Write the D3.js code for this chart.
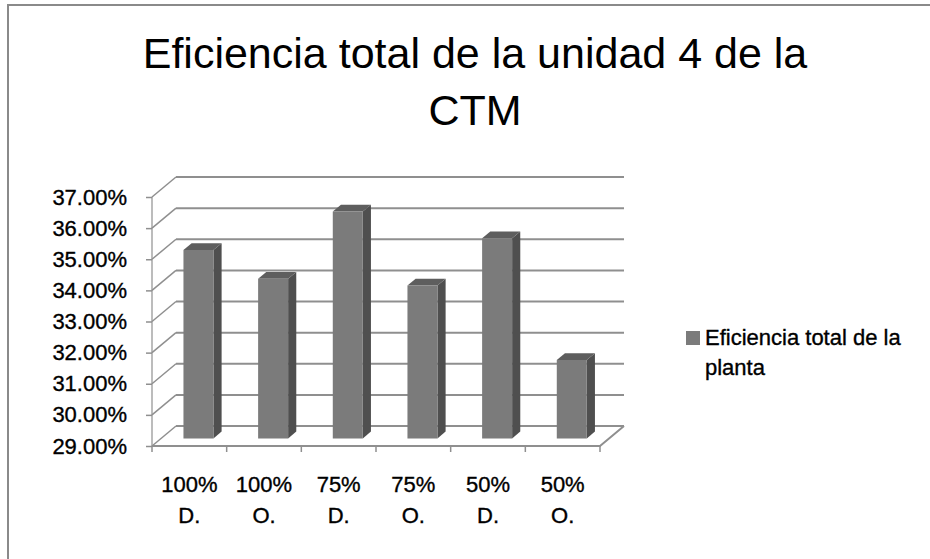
<!DOCTYPE html>
<html>
<head>
<meta charset="utf-8">
<script src="https://cdn.jsdelivr.net/npm/d3@7/dist/d3.min.js"></script>
<style>
  body { margin: 0; background: #fff; }
  text { font-family: "Liberation Sans", Arial, sans-serif; fill: #000; }
  .lab { stroke: #000; stroke-width: 0.35px; }
</style>
</head>
<body>
<div id="chart"></div>
<script>
// data
var categorias = ["100% D.", "100% O.", "75% D.", "75% O.", "50% D.", "50% O."];
var eficiencia = [35.05, 34.13, 36.29, 33.91, 35.43, 31.52];
var ticksY = [29, 30, 31, 32, 33, 34, 35, 36, 37];
var serieNombre = ["Eficiencia total de la", "planta"];
var titulo = ["Eficiencia total de la unidad 4 de la", "CTM"];

const dims = { width: 930, height: 559 };
// 3D offsets of the back wall
const prof = { dx: 24, dy: -20 };
const barra = { ancho: 30, f0: 0.38, f1: 0.72 };

var svg = d3.select("#chart").append("svg")
    .attr("width", dims.width)
    .attr("height", dims.height);

// chart frame
svg.append("rect")
    .attr("x", 8).attr("y", 5)
    .attr("width", dims.width + 10).attr("height", dims.height + 10)
    .attr("fill", "none")
    .attr("stroke", "#8a8a8a")
    .attr("stroke-width", 2);

// title
svg.append("text")
    .attr("x", 475).attr("y", 68)
    .attr("text-anchor", "middle")
    .style("font-size", "43px")
    .text(titulo[0]);
svg.append("text")
    .attr("x", 475).attr("y", 125)
    .attr("text-anchor", "middle")
    .style("font-size", "43px")
    .text(titulo[1]);

var scaleX = d3.scaleBand()
    .domain(categorias)
    .range([152, 600]);

var scaleY = d3.scaleLinear()
    .domain([29, 37])
    .range([446, 197]);

var gridColor = "#8f8f8f";
var g = svg.append("g");

// back wall gridlines + left wall diagonals
ticksY.forEach(function (t) {
    var y = scaleY(t);
    g.append("line")
        .attr("x1", scaleX.range()[0] + prof.dx).attr("y1", y + prof.dy)
        .attr("x2", scaleX.range()[1] + prof.dx).attr("y2", y + prof.dy)
        .attr("stroke", gridColor).attr("stroke-width", 2);
    g.append("line")
        .attr("x1", scaleX.range()[0]).attr("y1", y)
        .attr("x2", scaleX.range()[0] + prof.dx).attr("y2", y + prof.dy)
        .attr("stroke", gridColor).attr("stroke-width", 1.5);
});

// floor
var x0 = scaleX.range()[0], x1 = scaleX.range()[1], yb = scaleY(29);
g.append("path")
    .attr("d", "M" + x0 + "," + yb + "L" + x1 + "," + yb +
        "L" + (x1 + prof.dx) + "," + (yb + prof.dy))
    .attr("fill", "none")
    .attr("stroke", gridColor).attr("stroke-width", 2);

// front vertical axis
g.append("line")
    .attr("x1", x0).attr("y1", scaleY(37))
    .attr("x2", x0).attr("y2", yb)
    .attr("stroke", gridColor).attr("stroke-width", 1.2);

// y axis ticks and labels
var axisY = d3.axisLeft(scaleY)
    .tickValues(ticksY)
    .tickSize(6)
    .tickPadding(19)
    .tickFormat(d => d3.format(".2f")(d) + "%");

svg.append("g")
    .attr("class", "y axis")
    .attr("transform", "translate(" + x0 + ",0)")
    .call(axisY)
    .call(s => s.select(".domain").remove())
    .call(s => s.selectAll("line").attr("stroke", gridColor).attr("stroke-width", 1.5))
    .call(s => s.selectAll("text")
        .attr("class", "lab")
        .style("font-size", "22px")
        .attr("font-family", null)
        .attr("fill", "#000"));

// x axis boundary ticks
var bordes = categorias.map(c => scaleX(c)).concat([x1]);
svg.selectAll(".xtick")
    .data(bordes)
    .enter().append("line")
    .attr("class", "xtick")
    .attr("x1", d => d).attr("x2", d => d)
    .attr("y1", yb).attr("y2", yb + 6)
    .attr("stroke", gridColor).attr("stroke-width", 1.5);

// x labels, two lines each
var etiquetas = svg.selectAll(".xlab")
    .data(categorias)
    .enter().append("text")
    .attr("class", "xlab lab")
    .attr("text-anchor", "middle")
    .style("font-size", "22px");
etiquetas.append("tspan")
    .attr("x", d => scaleX(d) + scaleX.bandwidth() / 2)
    .attr("y", 492)
    .text(d => d.split(" ")[0]);
etiquetas.append("tspan")
    .attr("x", d => scaleX(d) + scaleX.bandwidth() / 2)
    .attr("y", 523)
    .text(d => d.split(" ")[1]);

// 3D bars
var datos = categorias.map((c, i) => ({ cat: c, val: eficiencia[i] }));

var bars = svg.selectAll(".bar")
    .data(datos)
    .enter().append("g")
    .attr("class", "bar");

function pt(x, y, f) {
    return (x + prof.dx * f) + "," + (y + prof.dy * f);
}

bars.each(function (d) {
    var b = d3.select(this);
    var cx = scaleX(d.cat) + scaleX.bandwidth() / 2;
    var xl = cx - barra.ancho / 2, xr = cx + barra.ancho / 2;
    var yt = scaleY(d.val), ybot = scaleY(29);
    var f0 = barra.f0, f1 = barra.f1;
    // side face
    b.append("polygon")
        .attr("points", [pt(xr, yt, f0), pt(xr, yt, f1), pt(xr, ybot, f1), pt(xr, ybot, f0)].join(" "))
        .attr("fill", "#4f4f4f");
    // top face
    b.append("polygon")
        .attr("points", [pt(xl, yt, f0), pt(xl, yt, f1), pt(xr, yt, f1), pt(xr, yt, f0)].join(" "))
        .attr("fill", "#5e5e5e");
    // front face
    b.append("polygon")
        .attr("points", [pt(xl, yt, f0), pt(xr, yt, f0), pt(xr, ybot, f0), pt(xl, ybot, f0)].join(" "))
        .attr("fill", "#7b7b7b");
});

// legend
svg.append("rect")
    .attr("x", 686).attr("y", 331)
    .attr("width", 14).attr("height", 14)
    .attr("fill", "#7b7b7b");
svg.append("text")
    .attr("class", "lab")
    .attr("x", 705).attr("y", 345)
    .style("font-size", "22px")
    .text(serieNombre[0]);
svg.append("text")
    .attr("class", "lab")
    .attr("x", 705).attr("y", 375)
    .style("font-size", "22px")
    .text(serieNombre[1]);
</script>
</body>
</html>
